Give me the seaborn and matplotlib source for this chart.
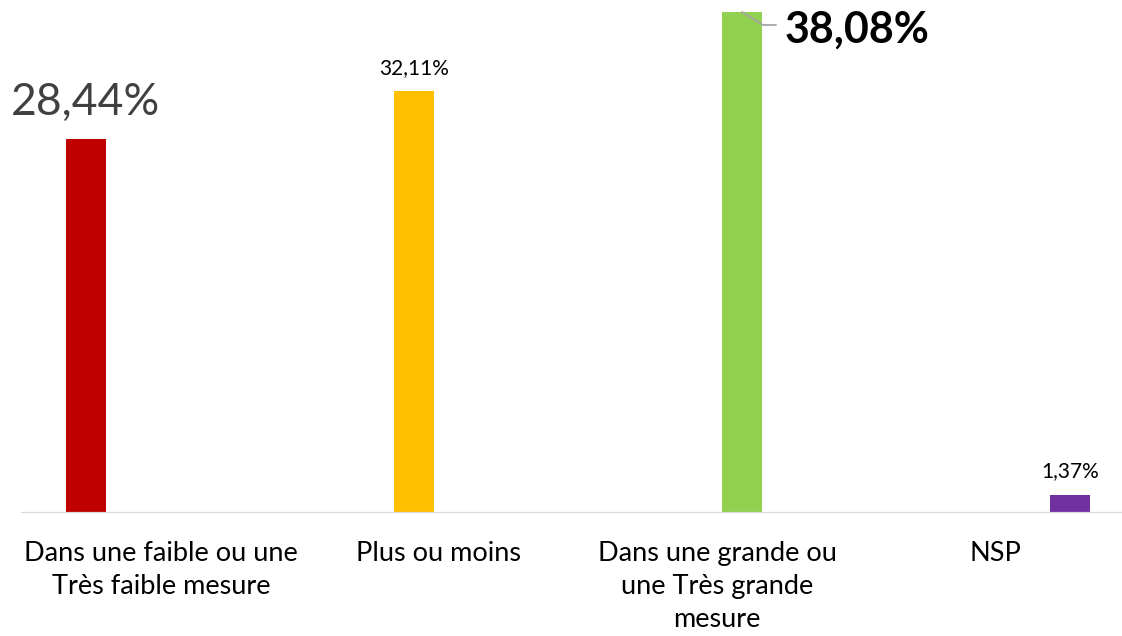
import matplotlib
matplotlib.use("Agg")
import matplotlib.pyplot as plt
import seaborn as sns
import pandas as pd
from matplotlib.lines import Line2D
from matplotlib.transforms import IdentityTransform

categories = ["Dans une faible ou une\nTrès faible mesure",
              "Plus ou moins",
              "Dans une grande ou\nune Très grande\nmesure",
              "NSP"]
values = [28.44, 32.11, 38.08, 1.37]
colors = ["#C00000", "#FFC000", "#92D050", "#7030A0"]

df = pd.DataFrame({"cat": categories, "val": values})

sns.set_theme(style="white")
plt.rcParams["font.family"] = ["Lato", "DejaVu Sans"]

fig = plt.figure(figsize=(11.22, 6.36), dpi=100)
ax = fig.add_axes([0, 123 / 636, 1, 501 / 636])

sns.barplot(data=df, x="cat", y="val", hue="cat", order=categories,
            hue_order=categories, palette=colors, dodge=True, width=0.72,
            gap=0.2, saturation=1, linewidth=0, legend=False, ax=ax)

ax.set_ylim(0, 38.08)
ax.set_xlim(-161 / 278, (1122 - 161) / 278)
for s in ax.spines.values():
    s.set_visible(False)
ax.set_yticks([])
ax.set_xlabel("")
ax.set_ylabel("")
ax.tick_params(axis="x", length=0, pad=20, labelsize=19.5, labelcolor="black")
for t in ax.get_xticklabels():
    t.set_linespacing(1.4)
ax.axhline(0, xmin=22 / 1122, xmax=1, color="#D9D9D9", lw=1.6, zorder=5)

# value labels
bars = sorted([p for p in ax.patches if p.get_height() > 0], key=lambda p: p.get_x())
px = 0.72  # points per pixel at 100 dpi
for i, (p, v) in enumerate(zip(bars, values)):
    txt = f"{v:.2f}".replace(".", ",") + "%"
    xc = p.get_x() + p.get_width() / 2
    h = p.get_height()
    if i == 0:
        ax.annotate(txt, (xc, h), xytext=(0, 24 * px), textcoords="offset points",
                    ha="center", va="baseline", fontsize=32, color="#404040")
    elif i == 2:
        ax.annotate(txt, (xc, h), xytext=(43 * px, -31 * px),
                    textcoords="offset points", ha="left", va="baseline",
                    fontsize=31, fontweight="bold", color="black",
                    annotation_clip=False)
        fig.canvas.draw()
        x0, y0 = ax.transData.transform((xc, h))
        fig.add_artist(Line2D([x0, x0 + 21, x0 + 34], [y0, y0 - 13, y0 - 13],
                              transform=IdentityTransform(), color="#A6A6A6", lw=1.3))
    else:
        ax.annotate(txt, (xc, h), xytext=(0, (16 if i == 1 else 18) * px),
                    textcoords="offset points", ha="center", va="baseline",
                    fontsize=15, color="black")

fig.savefig("out.png", dpi=100)
